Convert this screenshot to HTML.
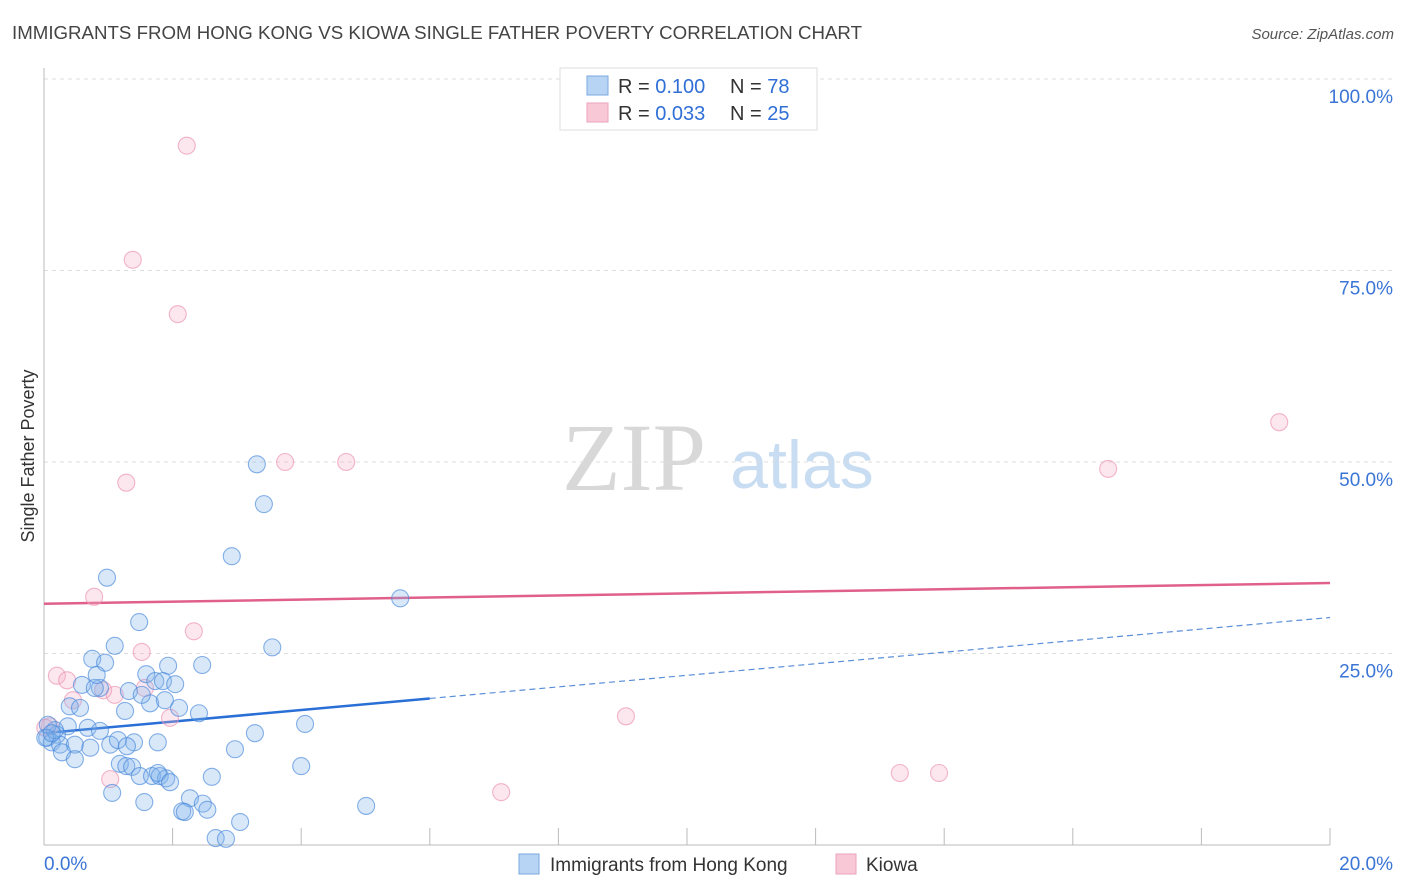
<!DOCTYPE html>
<html><head><meta charset="utf-8"><style>
body{margin:0;background:#fff;font-family:"Liberation Sans",sans-serif;}
svg{display:block}
</style></head><body>
<svg id="chart" width="1406" height="892" viewBox="0 0 1406 892" xmlns="http://www.w3.org/2000/svg" font-family="Liberation Sans, sans-serif">
<text x="12" y="39" font-size="18" fill="#444" textLength="850" lengthAdjust="spacingAndGlyphs">IMMIGRANTS FROM HONG KONG VS KIOWA SINGLE FATHER POVERTY CORRELATION CHART</text>
<text x="1394" y="39" font-size="15" fill="#555" text-anchor="end" font-style="italic">Source: ZipAtlas.com</text>
<g>
<text x="634" y="490" font-size="96" fill="#d8d8d8" text-anchor="middle" font-family="Liberation Serif, serif">ZIP</text>
<text x="802" y="488" font-size="68" fill="#c8dcf2" text-anchor="middle">atlas</text>
</g>
<g id="grid"></g>
<g id="axes"></g>
<g id="lines"></g>
<g id="pts"></g>
<text transform="translate(34,456) rotate(-90)" font-size="18" fill="#333" text-anchor="middle">Single Father Poverty</text>
<g>
<rect x="560" y="68" width="257" height="62" fill="#fff" stroke="#ddd"/>
<rect x="587" y="76" width="21" height="19" fill="#b8d4f4" stroke="#7aa8e0"/>
<rect x="587" y="103" width="21" height="19" fill="#f8c8d6" stroke="#eea2bc"/>
<text x="618" y="93" font-size="20" fill="#333">R = <tspan fill="#2f6fd6">0.100</tspan><tspan x="730">N = </tspan><tspan fill="#2f6fd6">78</tspan></text>
<text x="618" y="120" font-size="20" fill="#333">R = <tspan fill="#2f6fd6">0.033</tspan><tspan x="730">N = </tspan><tspan fill="#2f6fd6">25</tspan></text>
</g>
<g>
<rect x="519" y="854" width="20" height="20" fill="#b8d4f4" stroke="#7aa8e0"/>
<text x="550" y="871" font-size="19" fill="#333">Immigrants from Hong Kong</text>
<rect x="836" y="854" width="20" height="20" fill="#f8c8d6" stroke="#eea2bc"/>
<text x="866" y="871" font-size="19" fill="#333">Kiowa</text>
</g>
</svg>
<script>
const yTicks=[25,50,75,100];
const yTickLabels=["25.0%","50.0%","75.0%","100.0%"];
const xTicks=[2,4,6,8,10,12,14,16,18,20];
const xEndLabels=["0.0%","20.0%"];
const hkX=[3.31,3.42,2.92,0.98,5.54,1.48,1.10,3.55,0.75,0.95,1.93,2.46,1.59,1.73,1.85,2.04,0.59,0.87,1.32,1.65,2.10,1.26,2.41,0.40,4.06,0.68,0.87,0.37,0.20,0.05,0.12,0.25,0.48,0.72,1.03,1.15,1.40,1.77,2.97,3.28,0.28,0.48,4.00,1.18,1.28,1.37,1.49,1.68,1.80,1.90,1.77,1.96,2.61,1.06,1.56,2.27,2.47,2.54,2.15,2.19,5.01,3.05,2.67,2.83,0.17,0.06,0.56,0.79,0.82,1.88,1.52,1.29,0.02,0.12];
const hkY=[49.7,44.5,37.7,34.9,32.2,29.1,26.0,25.8,24.3,23.8,23.4,23.5,22.3,21.4,21.4,21.0,20.9,20.5,20.1,18.5,17.9,17.5,17.2,18.1,15.8,15.3,14.9,15.5,14.4,14.0,13.4,13.1,13.1,12.7,13.1,13.7,13.4,13.4,12.5,14.6,12.1,11.2,10.3,10.6,10.3,10.2,9.0,9.0,9.0,8.7,9.4,8.2,8.9,6.8,5.6,6.1,5.4,4.6,4.4,4.3,5.1,3.0,0.9,0.8,15.0,15.7,17.9,20.5,22.2,18.9,19.6,12.9,14.0,14.6];
const kiX=[2.22,1.38,2.08,3.75,4.70,1.28,16.55,19.21,0.78,2.33,1.52,0.20,0.36,0.92,0.45,1.10,1.57,1.96,1.03,9.05,7.11,13.31,13.92,0.09,0.02];
const kiY=[91.3,76.4,69.3,50.0,50.0,47.3,49.1,55.2,32.4,27.9,25.2,22.1,21.5,20.2,18.9,19.6,20.5,16.6,8.6,16.8,6.9,9.4,9.4,15.5,15.3];
const hkTrend=[14.6,0.755];   // intercept, slope
const kiTrend=[31.5,0.135];
const hkSolidMax=6;
const NS="http://www.w3.org/2000/svg";
const X0=44,X1=1330,Y0=845,Y100=79;
const sx=v=>X0+(X1-X0)*v/20;
const sy=v=>Y0-(Y0-Y100)*v/100;
function mk(tag,attrs,parent){const e=document.createElementNS(NS,tag);for(const k in attrs)e.setAttribute(k,attrs[k]);parent.appendChild(e);return e;}
const grid=document.getElementById('grid'),axes=document.getElementById('axes'),lines=document.getElementById('lines'),pts=document.getElementById('pts');
yTicks.forEach((t,i)=>{
  const l=mk('line',{x1:X0,x2:1393,y1:sy(t),y2:sy(t),stroke:'#ddd','stroke-dasharray':'4,4'},grid);
  
  
  const tx=mk('text',{x:1393,y:sy(t)+24,'font-size':19,fill:'#3a75d6','text-anchor':'end'},axes);
  tx.textContent=yTickLabels[i];
  
  
});
mk('line',{x1:X0,x2:X0,y1:68,y2:Y0,stroke:'#bbb'},axes);
mk('line',{x1:X0,x2:X1,y1:Y0,y2:Y0,stroke:'#bbb'},axes);
xTicks.forEach(t=>{
  const l=mk('line',{x1:sx(t),x2:sx(t),y1:Y0,y2:Y0-17,stroke:'#bbb'},axes);
  
  
});
const xl0=mk('text',{x:44,y:870,'font-size':19,fill:'#3a75d6'},axes);xl0.textContent=xEndLabels[0];


const xl1=mk('text',{x:1393,y:870,'font-size':19,fill:'#3a75d6','text-anchor':'end'},axes);xl1.textContent=xEndLabels[1];


function drawPts(xs,ys,fill,stroke,name){
  xs.forEach((x,i)=>{
    const c=mk('circle',{cx:sx(x),cy:sy(ys[i]),r:8.5,fill:fill,stroke:stroke,'stroke-width':1.1},pts);
    
    
  });
}
drawPts(kiX,kiY,'rgba(246,175,198,0.3)','rgba(236,150,178,0.7)','kiowa-point');
drawPts(hkX,hkY,'rgba(130,178,236,0.3)','rgba(70,135,218,0.65)','hong-kong-point');
const f=(tr,x)=>tr[0]+tr[1]*x;
const kl=mk('line',{x1:sx(0),y1:sy(f(kiTrend,0)),x2:sx(20),y2:sy(f(kiTrend,20)),stroke:'#e0608a','stroke-width':2.5},lines);


const hl=mk('line',{x1:sx(0),y1:sy(f(hkTrend,0)),x2:sx(hkSolidMax),y2:sy(f(hkTrend,hkSolidMax)),stroke:'#2a6fd6','stroke-width':2.5},lines);


const hd=mk('line',{x1:sx(hkSolidMax),y1:sy(f(hkTrend,hkSolidMax)),x2:sx(20),y2:sy(f(hkTrend,20)),stroke:'#5b8fd8','stroke-width':1.2,'stroke-dasharray':'6,4'},lines);


</script>
</body></html>
